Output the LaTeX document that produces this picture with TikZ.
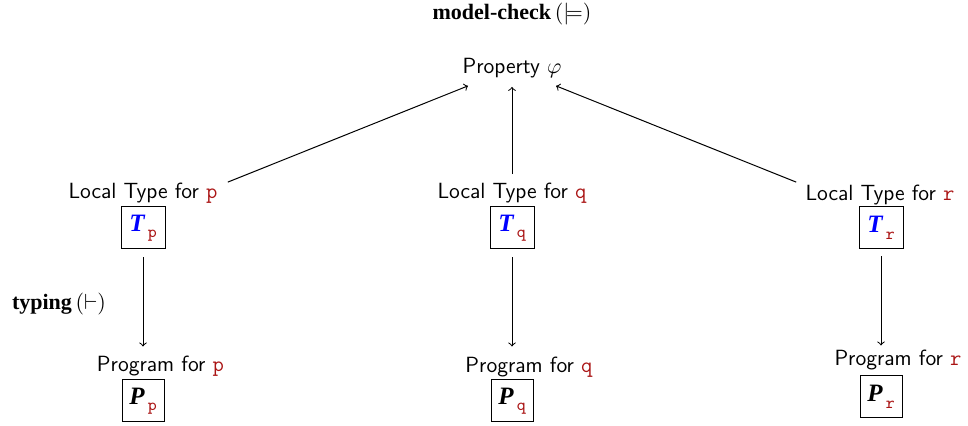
\documentclass[tikz,border=0pt]{standalone}
\usepackage{fontspec}
\newfontfamily\timesfam{Liberation Serif}
\definecolor{tred}{RGB}{170,20,20}
\definecolor{tblue}{RGB}{0,0,255}
\newcommand{\rl}[1]{\textcolor{tred}{\ttfamily #1}}
\newcommand{\subrl}[1]{\hspace{1.6pt}\raisebox{-3.2pt}{\fontsize{8.5}{9}\selectfont\rl{#1}}}
\newcommand{\Tsym}[1]{{\fontsize{12.5}{14}\selectfont\timesfam\bfseries\itshape\textcolor{tblue}{T}}\subrl{#1}}
\newcommand{\Psym}[1]{{\fontsize{12.5}{14}\selectfont\timesfam\bfseries\itshape P}\subrl{#1}}
\begin{document}
\begin{tikzpicture}[x=0.5pt,y=-0.5pt,
  lab/.style={font=\fontsize{11}{13}\selectfont\sffamily, inner sep=0pt, anchor=base},
  head/.style={font=\fontsize{11}{13}\selectfont, inner sep=0pt, anchor=base},
  tbox/.style={draw, line width=0.5pt, minimum width=22pt, minimum height=21pt, inner sep=0pt},
  pbox/.style={draw, line width=0.5pt, minimum width=21pt, minimum height=21pt, inner sep=0pt},
  arr/.style={->, line width=0.5pt}
]
\useasboundingbox (0,0) rectangle (968,426);

\node[head] (title) at (512,20) {{\timesfam\bfseries model-check}\,$(\models)$};
\node[lab] (prop) at (512,74) {Property $\varphi$};

\node[lab] (lp) at (143,199) {Local Type for \rl{p}};
\node[lab] (lq) at (512,199) {Local Type for \rl{q}};
\node[lab] (lr) at (880,201) {Local Type for \rl{r}};

\node[tbox] (Tp) at (143,228) {\Tsym{p}};
\node[tbox] (Tq) at (512,228) {\Tsym{q}};
\node[tbox] (Tr) at (881,228) {\Tsym{r}};

\node[head] (typing) at (59,310) {{\timesfam\bfseries typing}\,$(\vdash)$};

\node[lab] (gp) at (160.5,372) {Program for \rl{p}};
\node[lab] (gq) at (529,373) {Program for \rl{q}};
\node[lab] (gr) at (898,366) {Program for \rl{r}};

\node[pbox] (Pp) at (143,401) {\Psym{p}};
\node[pbox] (Pq) at (512,401) {\Psym{q}};
\node[pbox] (Pr) at (881,397) {\Psym{r}};

\draw[arr] ([xshift=5pt,yshift=0.5pt]lp.north east) -- ([xshift=-22pt,yshift=-3.5pt]prop.south);
\draw[arr] ([yshift=4.5pt]lq.north) -- ([yshift=-4pt]prop.south);
\draw[arr] ([xshift=-4.5pt,yshift=1.5pt]lr.north west) -- ([xshift=22pt,yshift=-3.5pt]prop.south);

\draw[arr] ([yshift=-4pt]Tp.south) -- ([yshift=16.5pt]Pp.north);
\draw[arr] ([yshift=-4pt]Tq.south) -- ([yshift=16.5pt]Pq.north);
\draw[arr] ([yshift=-3.5pt]Tr.south) -- ([yshift=15pt]Pr.north);
\end{tikzpicture}
\end{document}
